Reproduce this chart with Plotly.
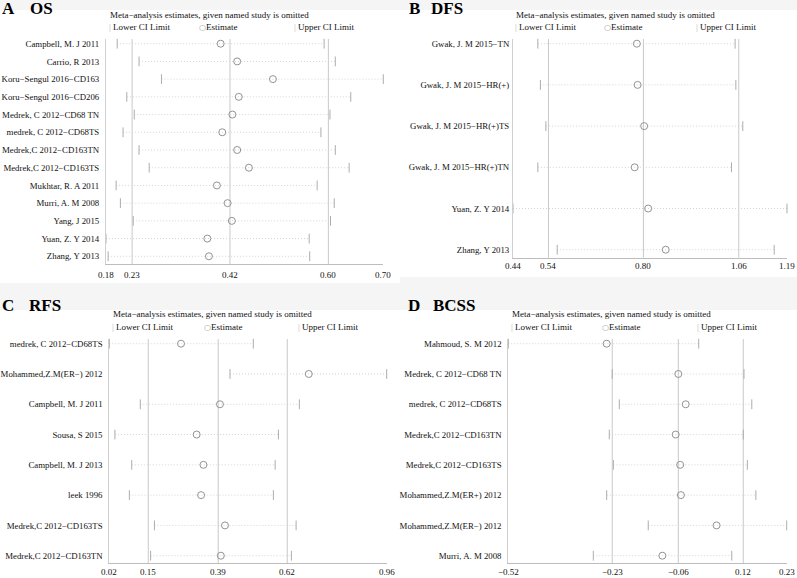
import plotly.graph_objects as go

W, H = 797, 578

# ---------------- data ----------------
A_studies = ["Campbell, M. J 2011", "Carrio, R 2013", "Koru−Sengul 2016−CD163", "Koru−Sengul 2016−CD206",
             "Medrek, C 2012−CD68 TN", "medrek, C 2012−CD68TS", "Medrek,C 2012−CD163TN", "Medrek,C 2012−CD163TS",
             "Mukhtar, R. A 2011", "Murri, A. M 2008", "Yang, J 2015", "Yuan, Z. Y 2014", "Zhang, Y 2013"]
A_est = [0.395, 0.426, 0.493, 0.429, 0.417, 0.398, 0.426, 0.448, 0.388, 0.408, 0.416, 0.370, 0.373]
A_lo = [0.201, 0.242, 0.284, 0.219, 0.233, 0.212, 0.242, 0.261, 0.199, 0.207, 0.231, 0.180, 0.184]
A_hi = [0.589, 0.610, 0.700, 0.639, 0.600, 0.583, 0.610, 0.636, 0.576, 0.608, 0.601, 0.561, 0.562]
A_overall = [0.229, 0.4125, 0.597]
A_ticks = [0.18, 0.229, 0.4125, 0.597, 0.70]
A_ticklabels = ["0.18", "0.23", "0.42", "0.60", "0.70"]

B_studies = ["Gwak, J. M 2015−TN", "Gwak, J. M 2015−HR(+)", "Gwak, J. M 2015−HR(+)TS", "Gwak, J. M 2015−HR(+)TN",
             "Yuan, Z. Y 2014", "Zhang, Y 2013"]
B_est = [0.779, 0.781, 0.799, 0.773, 0.810, 0.858]
B_lo = [0.508, 0.515, 0.530, 0.508, 0.440, 0.561]
B_hi = [1.048, 1.050, 1.069, 1.038, 1.190, 1.155]
B_overall = [0.537, 0.797, 1.058]
B_ticks = [0.44, 0.537, 0.797, 1.058, 1.19]
B_ticklabels = ["0.44", "0.54", "0.80", "1.06", "1.19"]

C_studies = ["medrek, C 2012−CD68TS", "Mohammed,Z.M(ER−) 2012", "Campbell, M. J 2011", "Sousa, S 2015",
             "Campbell, M. J 2013", "leek 1996", "Medrek,C 2012−CD163TS", "Medrek,C 2012−CD163TN"]
C_est = [0.263, 0.696, 0.395, 0.316, 0.339, 0.331, 0.412, 0.398]
C_lo = [0.020, 0.429, 0.125, 0.039, 0.096, 0.088, 0.173, 0.160]
C_hi = [0.508, 0.960, 0.664, 0.593, 0.582, 0.576, 0.653, 0.637]
C_overall = [0.152, 0.389, 0.623]
C_ticks = [0.02, 0.152, 0.389, 0.623, 0.96]
C_ticklabels = ["0.02", "0.15", "0.39", "0.62", "0.96"]

D_studies = ["Mahmoud, S. M 2012", "Medrek, C 2012−CD68 TN", "medrek, C 2012−CD68TS", "Medrek,C 2012−CD163TN",
             "Medrek,C 2012−CD163TS", "Mohammed,Z.M(ER+) 2012", "Mohammed,Z.M(ER−) 2012", "Murri, A. M 2008"]
D_est = [-0.255, -0.062, -0.042, -0.069, -0.057, -0.055, 0.041, -0.105]
D_lo = [-0.520, -0.240, -0.221, -0.248, -0.237, -0.255, -0.143, -0.291]
D_hi = [-0.007, 0.115, 0.136, 0.113, 0.124, 0.147, 0.230, 0.082]
D_overall = [-0.240, -0.062, 0.113]
D_ticks = [-0.52, -0.240, -0.062, 0.113, 0.23]
D_ticklabels = ["−0.52", "−0.23", "−0.06", "0.12", "0.23"]

panel_letters = ["A", "B", "C", "D"]
panel_names = ["OS", "DFS", "RFS", "BCSS"]
legend_title = "Meta−analysis estimates, given named study is omitted"

# ---------------- helpers ----------------
def px(x):
    return x / W

def py(y):
    return 1 - y / H

FONT = "Liberation Serif, Times New Roman, serif"
GRID = "#c9c9c9"
DOT = "#d4d4d4"
TICKC = "#adadad"
CIRC = "#939393"

fig = go.Figure()

panels = [
    dict(st=A_studies, est=A_est, lo=A_lo, hi=A_hi, ov=A_overall, tv=A_ticks, tt=A_ticklabels,
         xd=(106, 383.3), yd=(39, 264), r0=0.735, r1=13.435, lab_pad=4, xlab_y=275,
         leg=(107.5, 15.3, 27.3, 107, 197, 292), title=(0, 28.3, 8.5)),
    dict(st=B_studies, est=B_est, lo=B_lo, hi=B_hi, ov=B_overall, tv=B_ticks, tt=B_ticklabels,
         xd=(513, 787), yd=(39, 257.7), r0=0.886, r1=6.194, lab_pad=1, xlab_y=266,
         leg=(514.3, 15.3, 27.3, 513.3, 601.7, 694.3), title=(407, 429.3, 8.5)),
    dict(st=C_studies, est=C_est, lo=C_lo, hi=C_hi, ov=C_overall, tv=C_ticks, tt=C_ticklabels,
         xd=(109.3, 386.7), yd=(339, 563.3), r0=0.845, r1=8.251, lab_pad=4, xlab_y=572,
         leg=(111, 314.3, 327.3, 110, 201.7, 295.7), title=(0, 26.7, 305.5)),
    dict(st=D_studies, est=D_est, lo=D_lo, hi=D_hi, ov=D_overall, tv=D_ticks, tt=D_ticklabels,
         xd=(508.3, 786.7), yd=(339, 563.3), r0=0.845, r1=8.251, lab_pad=4, xlab_y=572,
         leg=(510, 314.3, 327.3, 509.3, 600, 695), title=(406, 430.7, 305.5)),
]

shapes = []
annotations = []

# background panels (composite image look)
for (x0, x1, y0, y1) in [(0, 400, 10, 283), (400, W, 10, 277), (0, 400, 310, H), (400, W, 310, H)]:
    shapes.append(dict(type="rect", xref="paper", yref="paper", x0=px(x0), x1=px(x1), y0=py(y1), y1=py(y0),
                       fillcolor="white", line=dict(width=0), layer="below"))

layout_axes = {}
for i, p in enumerate(panels):
    n = i + 1
    xa = "x" if n == 1 else f"x{n}"
    ya = "y" if n == 1 else f"y{n}"
    rows = list(range(1, len(p["st"]) + 1))

    # dotted CI lines
    lx, ly = [], []
    for r, lo, hi in zip(rows, p["lo"], p["hi"]):
        lx += [lo, hi, None]
        ly += [r, r, None]
    fig.add_trace(go.Scatter(x=lx, y=ly, mode="lines", xaxis=xa, yaxis=ya, showlegend=False,
                             line=dict(color=DOT, width=1, dash="1px,2px"), hoverinfo="skip", cliponaxis=False))
    # end ticks
    fig.add_trace(go.Scatter(x=p["lo"] + p["hi"], y=rows + rows, mode="markers", xaxis=xa, yaxis=ya,
                             showlegend=False, cliponaxis=False,
                             marker=dict(symbol="line-ns-open", size=7, color=TICKC, line=dict(color=TICKC, width=1))))
    # estimates
    fig.add_trace(go.Scatter(x=p["est"], y=rows, mode="markers", xaxis=xa, yaxis=ya, showlegend=False,
                             cliponaxis=False,
                             marker=dict(symbol="circle-open", size=7, color=CIRC, line=dict(color=CIRC, width=1))))
    # overall estimate / CI vertical lines
    for v in p["ov"]:
        shapes.append(dict(type="line", xref=xa, yref=f"{ya} domain", x0=v, x1=v, y0=0, y1=1,
                           line=dict(color=GRID, width=1), layer="below"))

    xkey = "xaxis" if n == 1 else f"xaxis{n}"
    ykey = "yaxis" if n == 1 else f"yaxis{n}"
    layout_axes[xkey] = dict(domain=[px(p["xd"][0]), px(p["xd"][1])], range=[p["tv"][0], p["tv"][-1]],
                             anchor=ya, showgrid=False, zeroline=False, showline=True, linecolor="#bdbdbd",
                             linewidth=1, automargin=False, showticklabels=False,
                             tickmode="array", tickvals=[p["tv"][-1]], ticks="inside", ticklen=4,
                             tickcolor="#bdbdbd")
    layout_axes[ykey] = dict(domain=[py(p["yd"][1]), py(p["yd"][0])], range=[p["r1"], p["r0"]],
                             anchor=xa, showgrid=False, zeroline=False, showline=True, linecolor="#d0d0d0",
                             linewidth=1, automargin=False, tickmode="array", tickvals=rows, ticktext=p["st"],
                             ticks="outside", ticklen=p["lab_pad"], tickcolor="rgba(0,0,0,0)",
                             tickfont=dict(family=FONT, size=8.8, color="#111"))

    # x tick labels (placed on the axis scale)
    for v, t in zip(p["tv"], p["tt"]):
        annotations.append(dict(xref=xa, yref="paper", x=v, y=py(p["xlab_y"]), xanchor="center",
                                yanchor="middle", text=t, showarrow=False,
                                font=dict(family=FONT, size=9, color="#111")))

    # legend-like header
    tx, ty, iy, l1, l2, l3 = p["leg"]
    annotations.append(dict(xref="paper", yref="paper", x=px(tx), y=py(ty), xanchor="left", yanchor="middle",
                            text=legend_title, showarrow=False, font=dict(family=FONT, size=9, color="#111")))
    annotations.append(dict(xref="paper", yref="paper", x=px(l1), y=py(iy), xanchor="left", yanchor="middle",
                            text="<span style='color:#b5b5b5'>|</span> Lower CI Limit", showarrow=False,
                            font=dict(family=FONT, size=9, color="#111")))
    annotations.append(dict(xref="paper", yref="paper", x=px(l2), y=py(iy), xanchor="left", yanchor="middle",
                            text="<span style='color:#9a9a9a;font-family:DejaVu Sans;font-size:8px'>○</span>Estimate",
                            showarrow=False, font=dict(family=FONT, size=9, color="#111")))
    annotations.append(dict(xref="paper", yref="paper", x=px(l3), y=py(iy), xanchor="left", yanchor="middle",
                            text="<span style='color:#b5b5b5'>|</span> Upper CI Limit", showarrow=False,
                            font=dict(family=FONT, size=9, color="#111")))
    # panel title
    t1, t2, tyy = p["title"]
    annotations.append(dict(xref="paper", yref="paper", x=px(t1), y=py(tyy), xanchor="left", yanchor="middle",
                            text=f"<b>{panel_letters[i]}</b>", showarrow=False,
                            font=dict(family=FONT, size=17, color="#000")))
    annotations.append(dict(xref="paper", yref="paper", x=px(t2), y=py(tyy), xanchor="left", yanchor="middle",
                            text=f"<b>{panel_names[i]}</b>", showarrow=False,
                            font=dict(family=FONT, size=17, color="#000")))

fig.update_layout(width=W, height=H, margin=dict(l=0, r=0, t=0, b=0, pad=0), paper_bgcolor="#f5f5f5",
                  plot_bgcolor="rgba(0,0,0,0)", shapes=shapes, annotations=annotations, showlegend=False,
                  **layout_axes)

fig.write_html("out.html", config={"displayModeBar": False},
               post_script="document.body.style.margin='0px';")
